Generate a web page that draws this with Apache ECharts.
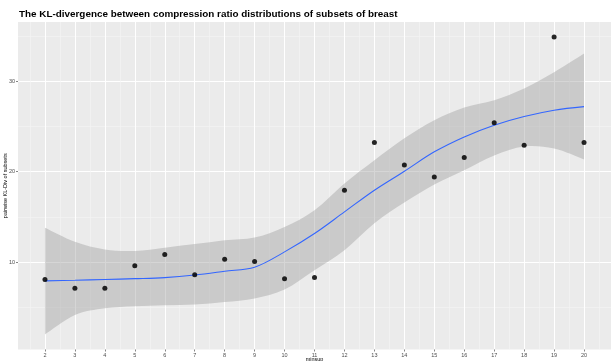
<!DOCTYPE html>
<html>
<head>
<meta charset="utf-8">
<script src="https://cdn.jsdelivr.net/npm/echarts@6/dist/echarts.min.js"></script>
<style>
  html, body { margin: 0; padding: 0; background: #ffffff; }
  #chart { width: 613px; height: 361px; }
</style>
</head>
<body>
<div id="chart"></div>
<script>
// minimum support thresholds and the KL-divergence measured at each
const minsup = [2, 3, 4, 5, 6, 7, 8, 9, 10, 11, 12, 13, 14, 15, 16, 17, 18, 19, 20];
const klDiv = [8.09, 7.13, 7.13, 9.6, 10.85, 8.6, 10.33, 10.08, 8.16, 8.3, 17.96, 23.22, 20.73, 19.43, 21.57, 25.4, 22.93, 34.9, 23.22];

// loess smoother and its confidence band
const fitLine = [7.93, 8.0, 8.09, 8.18, 8.3, 8.58, 9.0, 9.45, 11.14, 13.17, 15.56, 17.96, 20.05, 22.2, 23.85, 25.14, 26.1, 26.8, 27.2];
const fitLower = [2.0, 4.15, 4.9, 5.14, 5.25, 5.33, 5.6, 6.0, 6.98, 9.1, 11.33, 14.3, 16.6, 18.6, 20.17, 21.8, 22.8, 22.56, 21.35];
const fitUpper = [13.8, 12.25, 11.4, 11.25, 11.6, 12.0, 12.43, 12.73, 13.9, 15.75, 18.7, 21.27, 23.7, 25.7, 27.1, 27.9, 29.2, 31.0, 33.06];

// axis breaks
const xBreaks = [2, 3, 4, 5, 6, 7, 8, 9, 10, 11, 12, 13, 14, 15, 16, 17, 18, 19, 20];
const xMinorBreaks = [1.5, 2.5, 3.5, 4.5, 5.5, 6.5, 7.5, 8.5, 9.5, 10.5, 11.5, 12.5, 13.5, 14.5, 15.5, 16.5, 17.5, 18.5, 19.5, 20.5];
const yBreaks = [10, 20, 30];
const yMinorBreaks = [5, 15, 25, 35];

const X_MIN = 1.1, X_MAX = 20.9;
const Y_MIN = 0.35, Y_MAX = 36.55;

const pair = (xs, ys) => xs.map((x, i) => [x, ys[i]]);

// Catmull-Rom spline through pixel points, written as SVG path commands
function splinePath(pts, moveFirst) {
  let d = (moveFirst ? 'M' : 'L') + pts[0][0] + ',' + pts[0][1];
  for (let i = 0; i < pts.length - 1; i++) {
    const p0 = pts[Math.max(i - 1, 0)];
    const p1 = pts[i];
    const p2 = pts[i + 1];
    const p3 = pts[Math.min(i + 2, pts.length - 1)];
    const c1x = p1[0] + (p2[0] - p0[0]) / 6, c1y = p1[1] + (p2[1] - p0[1]) / 6;
    const c2x = p2[0] - (p3[0] - p1[0]) / 6, c2y = p2[1] - (p3[1] - p1[1]) / 6;
    d += 'C' + c1x + ',' + c1y + ',' + c2x + ',' + c2y + ',' + p2[0] + ',' + p2[1];
  }
  return d;
}

// confidence ribbon: upper edge forward, lower edge back, closed
function renderBand(params, api) {
  const up = minsup.map((x, i) => api.coord([x, fitUpper[i]]));
  const lo = minsup.map((x, i) => api.coord([x, fitLower[i]])).reverse();
  const d = splinePath(up, true) + splinePath(lo, false) + 'Z';
  return {
    type: 'path',
    shape: { pathData: d },
    style: { fill: 'rgba(153,153,153,0.4)', stroke: null }
  };
}

const chart = echarts.init(document.getElementById('chart'), null, { renderer: 'canvas' });

const FONT = 'Liberation Sans, Arial, sans-serif';
const tickLabel = { fontFamily: FONT, fontSize: 5.5, color: '#4D4D4D' };

chart.setOption({
  animation: false,
  backgroundColor: '#ffffff',
  title: {
    text: 'The KL-divergence between compression ratio distributions of subsets of breast',
    left: 14,
    top: 4,
    textStyle: { fontFamily: FONT, fontSize: 9.9, fontWeight: 'bold', color: '#000000' }
  },
  grid: {
    left: 18, right: 2, top: 22, bottom: 11.5,
    outerBoundsMode: 'none',
    containLabel: false,
    show: true, backgroundColor: '#EBEBEB', borderWidth: 0
  },
  xAxis: [{
    type: 'value', min: X_MIN, max: X_MAX,
    name: 'minsup', nameLocation: 'middle', nameGap: 7, nameMoveOverlap: false,
    nameTextStyle: { fontFamily: FONT, fontSize: 5.5, color: '#000000', verticalAlign: 'top' },
    axisLine: { show: false },
    axisTick: { show: true, length: 2, lineStyle: { color: '#333333', width: 0.6 }, customValues: xBreaks },
    axisLabel: Object.assign({ margin: 3, customValues: xBreaks }, tickLabel),
    splitLine: { show: true, lineStyle: { color: '#FFFFFF', width: 1 } }
  }, {
    type: 'value', min: X_MIN, max: X_MAX, position: 'top',
    axisLine: { show: false },
    axisTick: { show: false, customValues: xMinorBreaks },
    axisLabel: { show: false, customValues: xMinorBreaks },
    splitLine: { show: true, lineStyle: { color: '#F5F5F5', width: 0.6 } }
  }],
  yAxis: [{
    type: 'value', min: Y_MIN, max: Y_MAX,
    name: 'pairwise KL-Div of subsets', nameLocation: 'middle', nameGap: 10, nameMoveOverlap: false,
    nameTextStyle: { fontFamily: FONT, fontSize: 5.5, color: '#000000' },
    axisLine: { show: false },
    axisTick: { show: true, length: 2, lineStyle: { color: '#333333', width: 0.6 }, customValues: yBreaks },
    axisLabel: Object.assign({ margin: 3, customValues: yBreaks }, tickLabel),
    splitLine: { show: true, lineStyle: { color: '#FFFFFF', width: 1 } }
  }, {
    type: 'value', min: Y_MIN, max: Y_MAX, position: 'right',
    axisLine: { show: false },
    axisTick: { show: false, customValues: yMinorBreaks },
    axisLabel: { show: false, customValues: yMinorBreaks },
    splitLine: { show: true, lineStyle: { color: '#F5F5F5', width: 0.6 } }
  }],
  series: [
    {
      name: 'band', type: 'custom', z: 2, silent: true,
      coordinateSystem: 'cartesian2d',
      data: [[minsup[0], fitLower[0]]],
      renderItem: renderBand
    },
    {
      name: 'loess', type: 'line', z: 3,
      data: pair(minsup, fitLine),
      smooth: 0.35, symbol: 'none',
      lineStyle: { color: '#3366FF', width: 1.1 }
    },
    {
      name: 'points', type: 'scatter', z: 4,
      data: pair(minsup, klDiv),
      symbol: 'circle', symbolSize: 5,
      itemStyle: { color: '#000000', opacity: 0.85 }
    }
  ]
});
</script>
</body>
</html>
